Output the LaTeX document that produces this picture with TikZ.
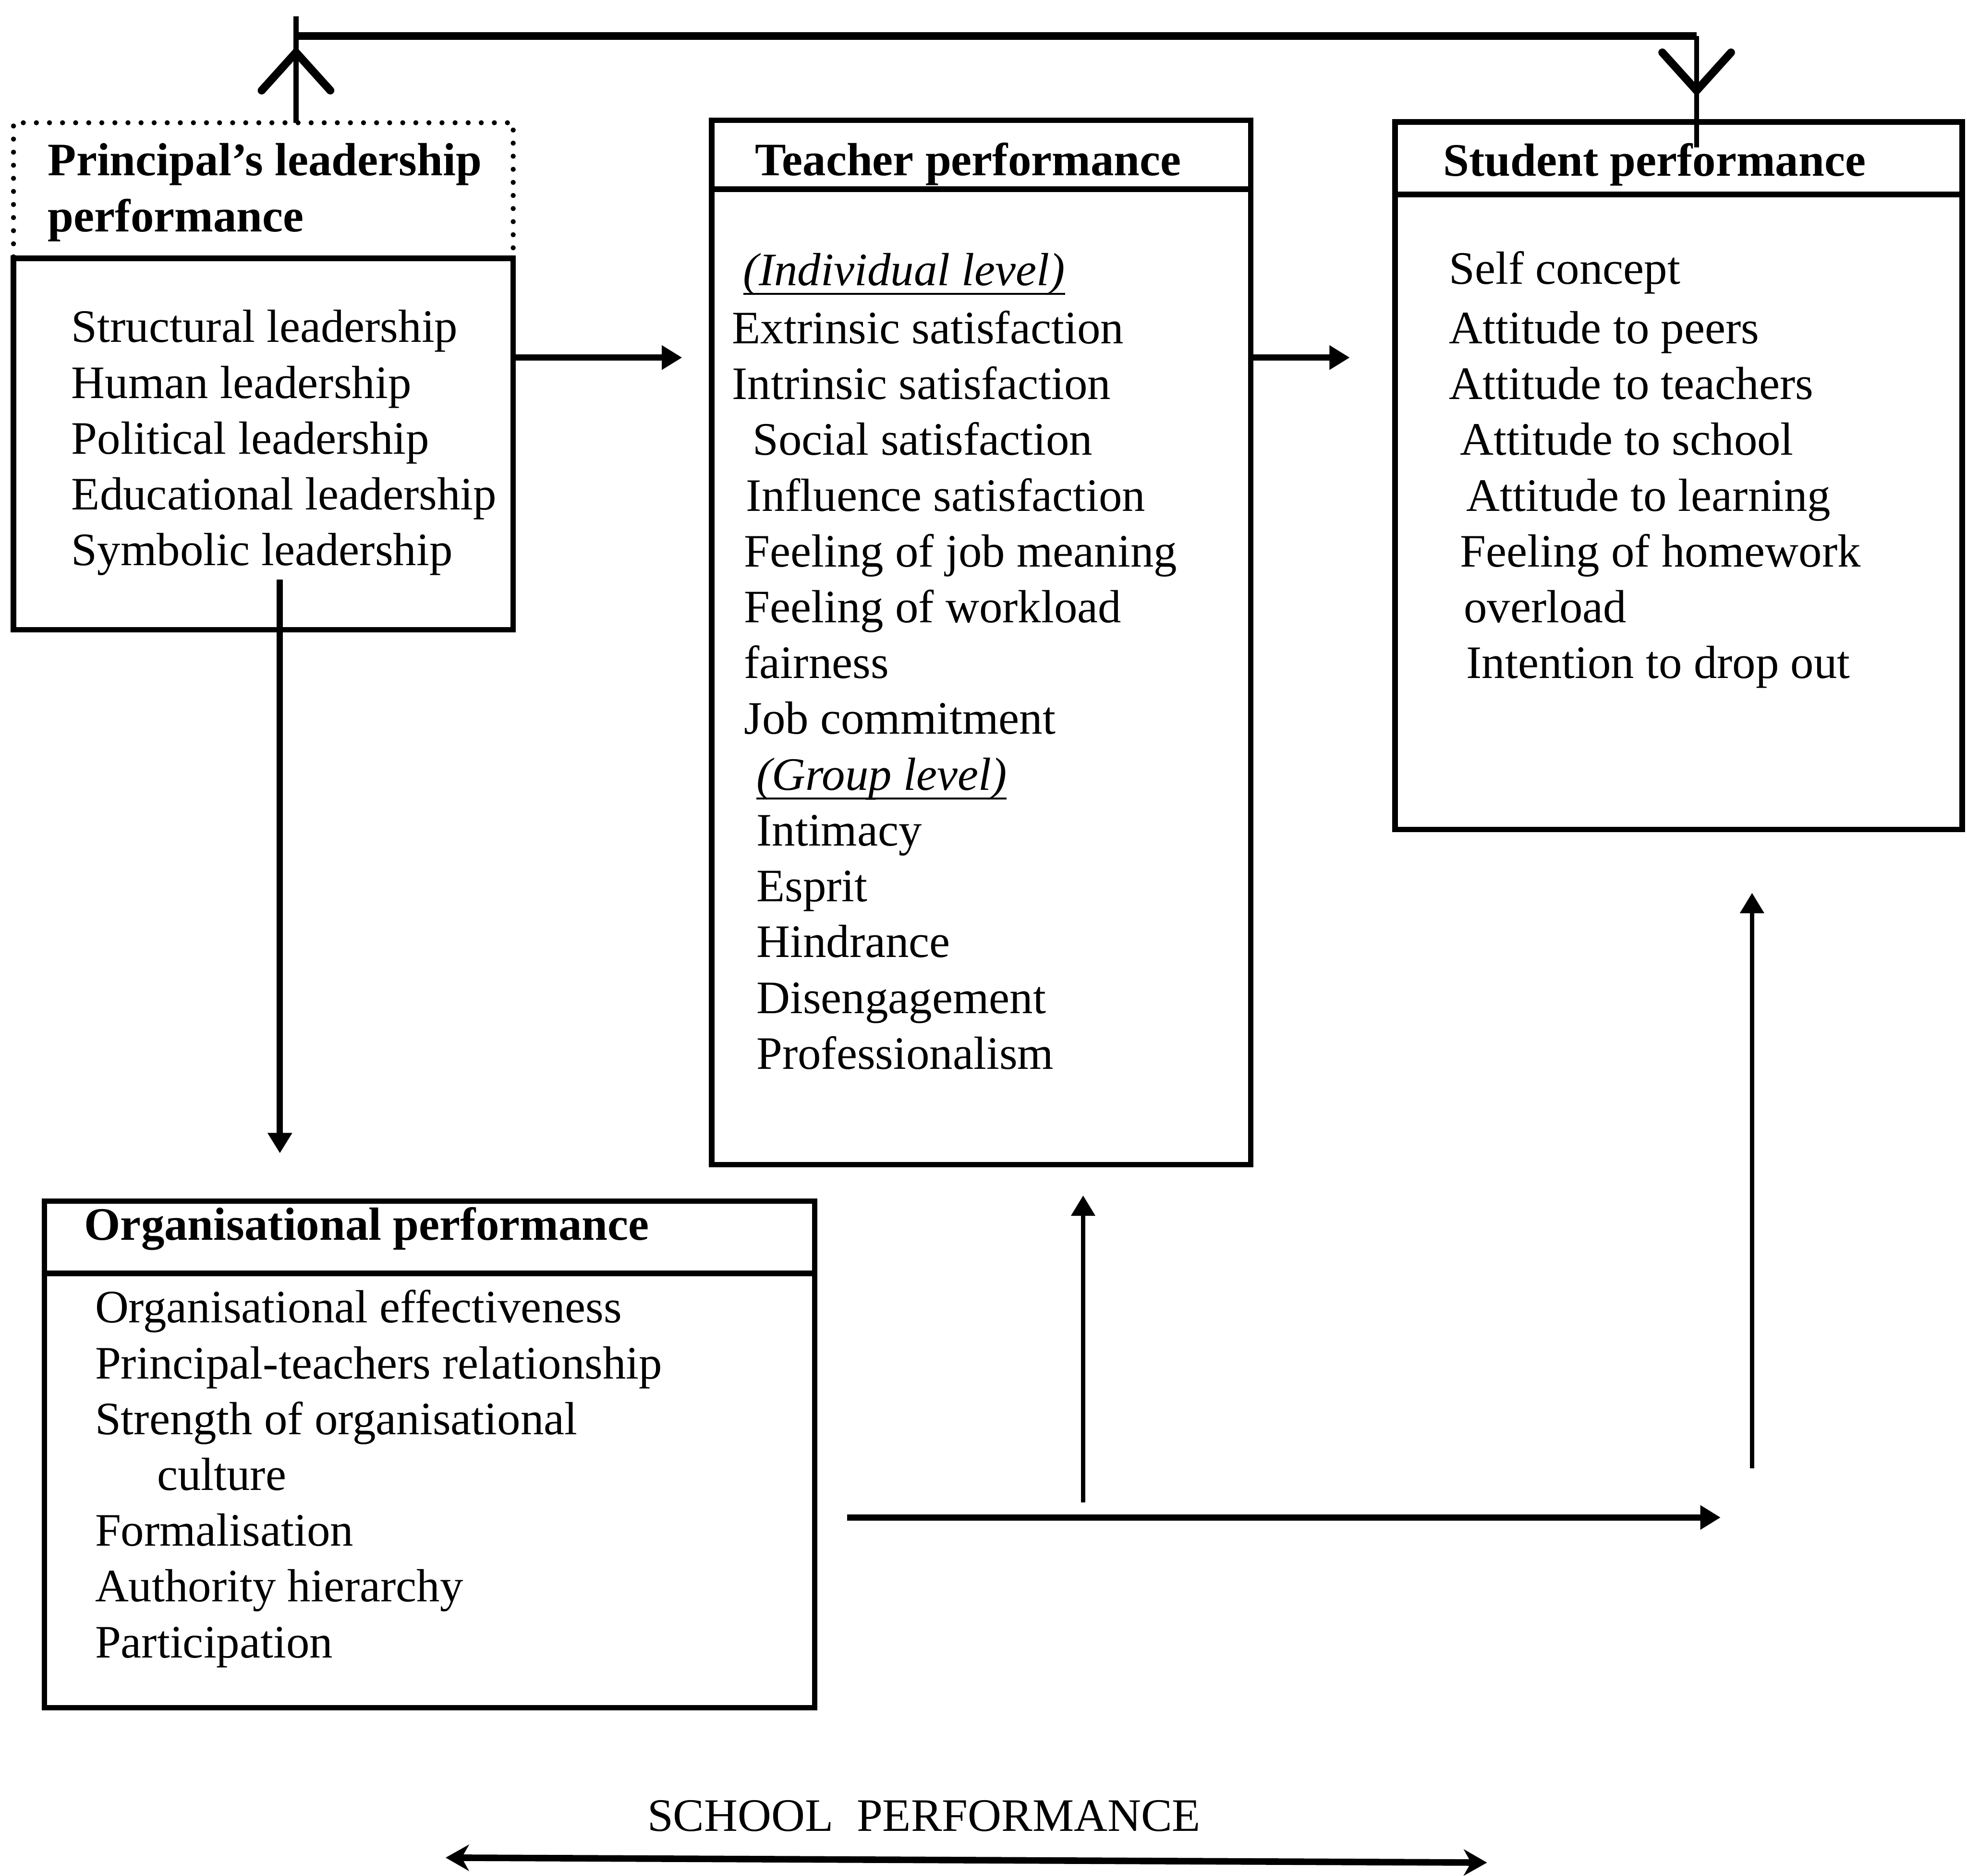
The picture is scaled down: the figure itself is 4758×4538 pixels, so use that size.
\documentclass[tikz,border=0pt]{standalone}
\usepackage{fontspec}
\setmainfont{Liberation Serif}
\usetikzlibrary{arrows.meta,decorations.markings}
\begin{document}
\begin{tikzpicture}[x=0.01cm,y=-0.01cm,
  boxline/.style={line width=3.8pt},
  box/.style={draw, boxline, rectangle, inner sep=0pt, outer sep=0pt},
  dotbox/.style={draw, rectangle, inner sep=0pt, outer sep=0pt, line width=3.5pt, dash pattern=on 0pt off 9pt, line cap=round},
  txt/.style={anchor=base west, inner sep=0pt, outer sep=0pt, font=\fontsize{32}{38}\selectfont},
  ttl/.style={txt, font=\fontsize{32}{38}\selectfont\bfseries},
  lvl/.style={txt, font=\fontsize{32}{38}\selectfont\itshape},
  arr/.style={line width=4.2pt, -{Triangle[length=14pt,width=16pt]}},
  thinarr/.style={line width=3pt, -{Triangle[length=14pt,width=16pt]}},
  fbh/.style={line width=5.2pt},
  fbv/.style={line width=3.6pt},
  vee/.style={postaction={decorate, decoration={markings, mark=at position #1 with {\draw[line width=5.5pt, line cap=round, line join=miter] (-0.92cm,0.83cm) -- (0,0) -- (-0.92cm,-0.83cm);}}}}
]
\useasboundingbox (0,0) rectangle (4758,4538);

% ---------- boxes ----------
\node[dotbox, minimum width=12.08cm, minimum height=3.28cm] (ph) at (637,461) {};
\node[box, minimum width=12.08cm, minimum height=8.98cm] (pb) at (637,1074) {};

\node[box, minimum width=13.03cm, minimum height=1.67cm] (th) at (2373.5,374.5) {};
\node[box, minimum width=13.03cm, minimum height=23.59cm] (tb) at (2373.5,1637.5) {};

\node[box, minimum width=13.71cm, minimum height=1.76cm] (sh) at (4060.5,383) {};
\node[box, minimum width=13.71cm, minimum height=15.35cm] (sb) at (4060.5,1238.5) {};

\node[box, minimum width=18.62cm, minimum height=1.75cm] (oh) at (1039,2993.5) {};
\node[box, minimum width=18.62cm, minimum height=10.50cm] (ob) at (1039,3606) {};

% ---------- principal text ----------
\node[ttl] (ph1) at (116,424) {Principal’s leadership};
\node[ttl] (ph2) at (116,560) {performance};
\node[txt] (p1) at (173,828) {Structural leadership};
\node[txt] (p2) at (173,963) {Human leadership};
\node[txt] (p3) at (173,1098) {Political leadership};
\node[txt] (p4) at (173,1233) {Educational leadership};
\node[txt] (p5) at (173,1368) {Symbolic leadership};

% ---------- teacher text ----------
\node[ttl] (t0) at (1827,424) {Teacher performance};
\node[lvl] (ti) at (1798,690) {(Individual level)};
\draw[line width=1.2pt] ([yshift=-6pt]ti.base west) -- ([yshift=-6pt]ti.base east);
\node[txt] (t1) at (1771,831) {Extrinsic satisfaction};
\node[txt] (t2) at (1771,966) {Intrinsic satisfaction};
\node[txt] (t3) at (1821,1101) {Social satisfaction};
\node[txt] (t4) at (1805,1236) {Influence satisfaction};
\node[txt] (t5) at (1800,1371) {Feeling of job meaning};
\node[txt] (t6) at (1800,1506) {Feeling of workload};
\node[txt] (t7) at (1800,1641) {fairness};
\node[txt] (t8) at (1800,1776) {Job commitment};
\node[lvl] (tg) at (1830,1911) {(Group level)};
\draw[line width=1.2pt] ([yshift=-6pt]tg.base west) -- ([yshift=-6pt]tg.base east);
\node[txt] (t9) at (1830,2046) {Intimacy};
\node[txt] (t10) at (1830,2181) {Esprit};
\node[txt] (t11) at (1830,2316) {Hindrance};
\node[txt] (t12) at (1830,2451) {Disengagement};
\node[txt] (t13) at (1830,2586) {Professionalism};

% ---------- student text ----------
\node[ttl] (s0) at (3491,426) {Student performance};
\node[txt] (s1) at (3505,687) {Self concept};
\node[txt] (s2) at (3505,831) {Attitude to peers};
\node[txt] (s3) at (3505,966) {Attitude to teachers};
\node[txt] (s4) at (3532,1101) {Attitude to school};
\node[txt] (s5) at (3547,1236) {Attitude to learning};
\node[txt] (s6) at (3532,1371) {Feeling of homework};
\node[txt] (s7) at (3541,1506) {overload};
\node[txt] (s8) at (3547,1641) {Intention to drop out};

% ---------- organisational text ----------
\node[ttl] (o0) at (204,3000) {Organisational performance};
\node[txt] (o1) at (230,3200) {Organisational effectiveness};
\node[txt] (o2) at (230,3335) {Principal-teachers relationship};
\node[txt] (o3) at (230,3470) {Strength of organisational};
\node[txt] (o4) at (380,3605) {culture};
\node[txt] (o5) at (230,3740) {Formalisation};
\node[txt] (o6) at (230,3875) {Authority hierarchy};
\node[txt] (o7) at (230,4010) {Participation};

% ---------- school performance ----------
\node[txt] (sp) at (1566,4430) {SCHOOL\ \ PERFORMANCE};

% ---------- coordinates ----------
\coordinate (fbtop) at (716,40);
\coordinate (fbL) at (716,87);
\coordinate (fbR) at (4104,87);
\coordinate (fbend) at (4104,357);
\coordinate (a1y) at (0,865);
\coordinate (a1e) at (1650,865);
\coordinate (a2e) at (3265,865);
\coordinate (a3s) at (677,1402);
\coordinate (a3e) at (677,2790);
\coordinate (a4s) at (2049,3671);
\coordinate (a4e) at (4162,3671);
\coordinate (a5s) at (2620,3635);
\coordinate (a5e) at (2620,2892);
\coordinate (a6s) at (4238,3552);
\coordinate (a6e) at (4238,2160);
\coordinate (dl) at (1078,4494);
\coordinate (dr) at (3597,4506);

% ---------- feedback connector ----------
\draw[fbv, vee=1.7cm] (fbL |- ph.north) -- (fbtop);
\draw[fbh] (fbL) -- (fbR);
\draw[fbv, vee=1.32cm] (fbR) -- (fbend);

% ---------- arrows ----------
\draw[arr] (pb.east |- a1y) -- (a1e);
\draw[arr] (tb.east |- a1y) -- (a2e);
\draw[arr] (a3s) -- (a3e);
\draw[arr] (a4s) -- (a4e);
\draw[thinarr] (a5s) -- (a5e);
\draw[thinarr] (a6s) -- (a6e);
\draw[line width=4.5pt, {Stealth[length=16pt,width=18pt,inset=5pt]}-{Stealth[length=16pt,width=18pt,inset=5pt]}] (dl) -- (dr);
\end{tikzpicture}
\end{document}
